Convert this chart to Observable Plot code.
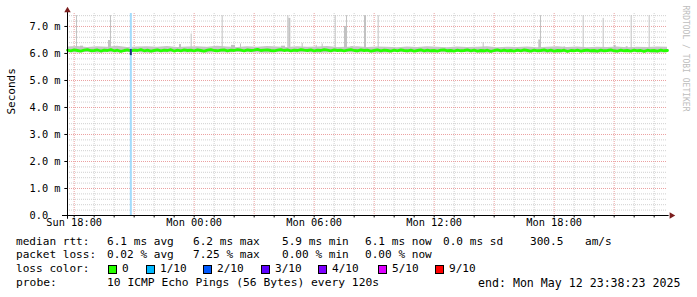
<!DOCTYPE html>
<html><head><meta charset="utf-8">
<script src="https://cdn.jsdelivr.net/npm/d3@7"></script>
<script src="https://cdn.jsdelivr.net/npm/@observablehq/plot@0.6"></script>
<style>
body{margin:0;background:#fff;}
#wrap{position:relative;width:697px;height:297px;overflow:hidden;font-family:"DejaVu Sans Mono",monospace;background:#fff;}
#wrap svg{position:absolute;left:0;top:0;}
.lg{position:absolute;font-size:11.1px;white-space:pre;color:#000;line-height:14px;}
.sq{position:absolute;width:7px;height:7px;border:1px solid #000;}
</style></head><body><div id="wrap"></div><script>
// ---- data ----
const startTime = "2025-05-11 17:40";
const endTime = "2025-05-12 23:40";
// median RTT (ms), every 10 minutes from startTime
const medianRtt = [
6.12,6.10,6.13,6.11,6.09,6.12,6.14,6.10,6.11,6.13,6.09,6.12,
6.11,6.14,6.10,6.12,6.08,6.11,6.13,6.10,6.12,6.11,6.14,6.10,
6.12,6.09,6.11,6.13,6.10,6.12,6.11,6.14,6.09,6.12,6.10,6.13,
6.11,6.12,6.10,6.13,6.11,6.09,6.12,6.14,6.11,6.10,6.12,6.13,
6.10,6.12,6.11,6.14,6.12,6.10,6.13,6.11,6.12,6.15,6.11,6.12,
6.13,6.11,6.10,6.12,6.14,6.11,6.13,6.10,6.12,6.11,6.14,6.12,
6.11,6.13,6.10,6.12,6.11,6.14,6.12,6.10,6.13,6.11,6.12,6.10,
6.12,6.14,6.11,6.10,6.13,6.11,6.12,6.09,6.11,6.13,6.10,6.12,
6.11,6.09,6.12,6.10,6.13,6.11,6.10,6.12,6.09,6.11,6.13,6.10,
6.12,6.10,6.11,6.09,6.12,6.13,6.10,6.11,6.09,6.12,6.10,6.11,
6.13,6.10,6.12,6.09,6.11,6.10,6.12,6.08,6.11,6.13,6.10,6.12,
6.10,6.11,6.09,6.12,6.10,6.13,6.11,6.09,6.12,6.10,6.11,6.13,
6.10,6.12,6.09,6.11,6.10,6.12,6.08,6.11,6.10,6.12,6.09,6.11,
6.12,6.10,6.11,6.09,6.12,6.10,6.11,6.13,6.10,6.09,6.12,6.10,
6.11,6.09,6.12,6.10,6.11,6.08,6.12,6.10,6.11,6.09,6.12,6.10,
6.11];
// smoke band (ms), every 30 minutes from startTime
const smokeHi = [
6.24,6.26,6.22,6.25,6.23,6.27,6.22,6.24,6.25,6.23,
6.26,6.22,6.24,6.25,6.23,6.27,6.24,6.22,6.25,6.23,
6.26,6.24,6.22,6.25,6.23,6.24,6.26,6.22,6.23,6.25,
6.22,6.24,6.23,6.21,6.24,6.22,6.25,6.23,6.21,6.24,
6.22,6.23,6.25,6.21,6.23,6.22,6.24,6.21,6.23,6.25,
6.22,6.24,6.21,6.23,6.22,6.24,6.21,6.23,6.22,6.24,
6.23];
const smokeLo = [
6.03,6.02,6.04,6.01,6.03,6.02,6.04,6.03,6.01,6.03,
6.02,6.04,6.02,6.03,6.01,6.03,6.02,6.04,6.03,6.02,
6.01,6.03,6.04,6.02,6.03,6.01,6.02,6.04,6.03,6.02,
6.03,6.01,6.02,6.04,6.02,6.03,6.01,6.03,6.02,6.04,
6.03,6.02,6.01,6.03,6.02,6.04,6.02,6.03,6.01,6.02,
6.03,6.04,6.02,6.01,6.03,6.02,6.04,6.03,6.02,6.01,
6.03];
// smoke spikes: start, top (ms), duration (min)
const spikeStart = ["2025-05-11 18:07","2025-05-11 19:43","2025-05-11 19:49","2025-05-11 23:51","2025-05-12 01:24","2025-05-12 04:41","2025-05-12 04:44","2025-05-12 07:03","2025-05-12 07:31","2025-05-12 07:37","2025-05-12 08:31","2025-05-12 09:12","2025-05-12 14:27","2025-05-12 17:14","2025-05-12 17:19","2025-05-12 19:27","2025-05-12 20:27","2025-05-12 21:51","2025-05-12 22:45",
"2025-05-11 18:19","2025-05-11 23:16","2025-05-12 00:08","2025-05-12 01:52","2025-05-12 02:19","2025-05-12 04:22","2025-05-12 05:24","2025-05-12 06:06","2025-05-12 06:24","2025-05-12 07:50","2025-05-12 18:30","2025-05-12 21:00","2025-05-12 21:36"];
const spikeTop = [7.4,6.48,7.4,6.72,7.4,7.4,7.3,7.4,7.0,7.4,7.4,7.4,6.4,6.5,7.4,7.4,7.3,7.4,7.4,
6.27,6.33,6.22,6.3,6.35,6.27,6.37,6.3,6.35,6.25,6.25,6.3,6.25];
const spikeDur = [3,6,3,3,3,3,6,3,6,3,6,3,3,6,3,3,3,3,3,
9,6,6,12,3,12,3,3,3,9,3,6,6];
const lossTime = "2025-05-11 20:50";
const lossNotch = [5.92, 6.15];
const yTickValues = [0,1,2,3,4,5,6,7];
const yTickLabels = ["0.0","1.0 m","2.0 m","3.0 m","4.0 m","5.0 m","6.0 m","7.0 m"];
const xTickTimes = ["2025-05-11 18:00","2025-05-12 00:00","2025-05-12 06:00","2025-05-12 12:00","2025-05-12 18:00"];
const xTickLabels = ["Sun 18:00","Mon 00:00","Mon 06:00","Mon 12:00","Mon 18:00"];
const lossLabels = ["0","1/10","2/10","3/10","4/10","5/10","9/10"];
const lossColors = ["#26ff00","#00b8ff","#0059ff","#5e00ff","#7e00ff","#dd00ff","#ff0000"];

// ---- build ----
const parse = d3.utcParse("%Y-%m-%d %H:%M");
const t0 = parse(startTime), t1 = parse(endTime);
const median = medianRtt.map((v,i)=>({t:d3.utcMinute.offset(t0,i*10), v}));
const smoke = smokeHi.map((h,i)=>({t:d3.utcMinute.offset(t0,i*30), hi:h, lo:smokeLo[i]}));
const spikes = spikeStart.map((s,i)=>({t:parse(s), t2:d3.utcMinute.offset(parse(s),spikeDur[i]), top:spikeTop[i]}));
const hours = d3.utcHour.range(d3.utcHour.ceil(t0), t1);
const xMajor = hours.filter(d=>d.getUTCHours()%3===0);
const xMinor = hours.filter(d=>d.getUTCHours()%3!==0);
const yMinor = d3.range(0.2,7.45,0.2).filter(v=>Math.abs(v-Math.round(v))>0.01);
const lossT = parse(lossTime);
const H = 232;
const ink = "#7b1d1d";

const plot = Plot.plot({
  width:697, height:H,
  marginLeft:67, marginRight:30, marginTop:13, marginBottom:H-215,
  x:{type:"utc", domain:[t0,t1], axis:null},
  y:{domain:[0,7.48], axis:null},
  style:{fontFamily:"'DejaVu Sans Mono', monospace", fontSize:"10.3px", background:"#fff", color:"#000", overflow:"visible"},
  marks:[
    Plot.ruleY(yMinor,{stroke:"#d0d0d0", strokeDasharray:"1,1"}),
    Plot.ruleX(xMinor,{stroke:"#d0d0d0", strokeDasharray:"1,1"}),
    Plot.ruleY(yTickValues.filter(v=>v>0),{stroke:"#eba0a0", strokeDasharray:"1,1"}),
    Plot.ruleX(xMajor,{stroke:"#eba0a0", strokeDasharray:"1,1"}),
    Plot.areaY(smoke,{x:"t", y1:"lo", y2:"hi", fill:"#c6c6c6"}),
    Plot.rectY(spikes,{x1:"t", x2:"t2", y1:6.1, y2:"top", fill:"#c2c2c2"}),
    Plot.lineY(median,{x:"t", y:"v", stroke:"#26ff00", strokeWidth:2.8}),
    Plot.ruleX([lossT],{stroke:"#a3dbfc", strokeWidth:2}),
    Plot.ruleX([lossT],{y1:lossNotch[0], y2:lossNotch[1], stroke:"#172f78", strokeWidth:2}),
    // axes
    Plot.ruleY([0],{x1:d3.utcMinute.offset(t0,-15), x2:d3.utcMinute.offset(t1,5), stroke:"#000"}),
    Plot.ruleX([t0],{y1:-0.14, y2:7.6, stroke:"#000"}),
    Plot.ruleX(hours,{y1:-0.09, y2:0, stroke:"#000"}),
    Plot.ruleY(yTickValues,{x1:d3.utcMinute.offset(t0,-8), x2:t0, stroke:"#000"}),
    Plot.text(yTickLabels,{y:(d,i)=>yTickValues[i], text:d=>d, frameAnchor:"left", dx:-38, textAnchor:"start", fontSize:10.3}),
    Plot.text(xTickLabels,{x:(d,i)=>parse(xTickTimes[i]), text:d=>d, frameAnchor:"bottom", dy:10, fontSize:10.3}),
    Plot.text(["Seconds"],{frameAnchor:"left", dx:-56, rotate:-90, fontSize:11}),
    Plot.text(["RRDTOOL / TOBI OETIKER"],{frameAnchor:"top-right", dx:21, dy:-8, rotate:90, textAnchor:"start", fill:"#bdbdbd", fontSize:8}),
    Plot.dot([0],{frameAnchor:"top-left", dy:-3, symbol:"triangle", r:2.4, fill:ink, stroke:null}),
    Plot.dot([0],{frameAnchor:"bottom-right", dx:4, rotate:90, symbol:"triangle", r:2.4, fill:ink, stroke:null})
  ]
});
const wrap = document.getElementById("wrap");
wrap.appendChild(plot);

function addText(txt, x, yc, fs){
  const d = document.createElement("div");
  d.className = "lg"; d.textContent = txt;
  if (fs) d.style.fontSize = fs + "px";
  d.style.left = x+"px"; d.style.top = (yc-7)+"px";
  wrap.appendChild(d);
}
const row1 = [["median rtt:",16],["6.1 ms avg",107],["6.2 ms max",193],["5.9 ms min",282],["6.1 ms now",365],["0.0 ms sd",443],["300.5",530],["am/s",585]];
const row2 = [["packet loss:",16],["0.02 % avg",107],["7.25 % max",193],["0.00 % min",282],["0.00 % now",365]];
const row4 = [["probe:",16],["10 ICMP Echo Pings (56 Bytes) every 120s",107],["end: Mon May 12 23:38:23 2025",478]];
row1.forEach(([t,x])=>addText(t,x,241.5));
row2.forEach(([t,x])=>addText(t,x,255));
addText("loss color:",16,269);
row4.forEach(([t,x],i)=>addText(t,x,282.7, i===2 ? 11.6 : 11.3));
const sqX = [108,146,203,261,318,378,435];
lossLabels.forEach((l,i)=>{
  const s = document.createElement("div");
  s.className = "sq"; s.style.background = lossColors[i];
  s.style.left = sqX[i]+"px"; s.style.top = "265px";
  wrap.appendChild(s);
  addText(l, sqX[i]+14, 269);
});
</script></body></html>
